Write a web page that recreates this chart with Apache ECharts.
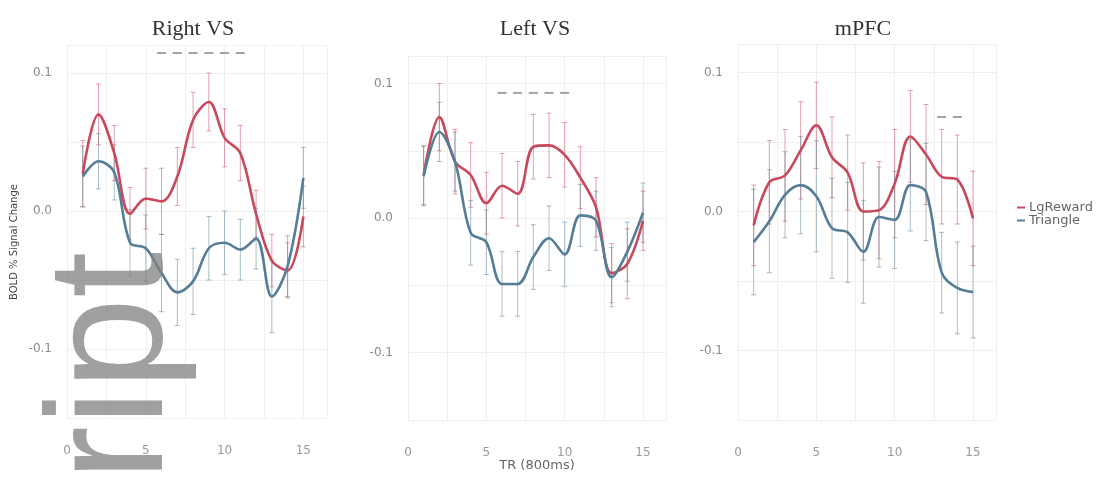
<!DOCTYPE html>
<html>
<head>
<meta charset="utf-8">
<script src="https://cdn.jsdelivr.net/npm/echarts@6/dist/echarts.min.js"></script>
<style>
  html, body { margin: 0; padding: 0; background: #fff; }
  #chart { width: 1105px; height: 480px; }
</style>
</head>
<body>
<div id="chart"></div>
<script>
(function () {
  "use strict";

  // TR index (800 ms each)
  const trs = [1, 2, 3, 4, 5, 6, 7, 8, 9, 10, 11, 12, 13, 14, 15];
  const panelTitles = ["Right VS", "Left VS", "mPFC"];
  const seriesNames = ["LgReward", "Triangle"];

  // Right VS
  const rvsReward = [0.027, 0.070, 0.042, -0.002, 0.009, 0.007, 0.025, 0.066, 0.079, 0.053, 0.042, -0.002, -0.036, -0.043, -0.004];
  const rvsRewardSe = [0.024, 0.022, 0.020, 0.019, 0.022, 0.024, 0.021, 0.020, 0.021, 0.021, 0.020, 0.017, 0.019, 0.020, 0.022];
  const rvsTriangle = [0.025, 0.036, 0.028, -0.023, -0.027, -0.045, -0.059, -0.051, -0.027, -0.023, -0.028, -0.020, -0.062, -0.040, 0.024];
  const rvsTriangleSe = [0.022, 0.020, 0.020, 0.024, 0.024, 0.028, 0.024, 0.024, 0.023, 0.023, 0.022, 0.022, 0.026, 0.022, 0.022];

  // Left VS
  const lvsReward = [0.032, 0.075, 0.042, 0.032, 0.011, 0.024, 0.018, 0.053, 0.054, 0.047, 0.030, 0.008, -0.041, -0.034, -0.002];
  const lvsRewardSe = [0.022, 0.025, 0.024, 0.024, 0.023, 0.024, 0.024, 0.024, 0.024, 0.024, 0.023, 0.022, 0.022, 0.026, 0.022];
  const lvsTriangle = [0.031, 0.064, 0.042, -0.011, -0.018, -0.049, -0.049, -0.029, -0.015, -0.027, 0.002, -0.002, -0.044, -0.025, 0.004];
  const lvsTriangleSe = [0.022, 0.022, 0.022, 0.024, 0.024, 0.024, 0.024, 0.024, 0.024, 0.024, 0.023, 0.022, 0.022, 0.022, 0.022];

  // mPFC
  const mpfcReward = [-0.010, 0.021, 0.026, 0.044, 0.062, 0.039, 0.028, 0.000, 0.001, 0.020, 0.054, 0.041, 0.025, 0.023, -0.005];
  const mpfcRewardSe = [0.029, 0.030, 0.033, 0.035, 0.031, 0.029, 0.027, 0.035, 0.035, 0.039, 0.033, 0.036, 0.034, 0.032, 0.034];
  const mpfcTriangle = [-0.022, -0.007, 0.012, 0.019, 0.011, -0.012, -0.015, -0.029, -0.004, -0.006, 0.019, 0.014, -0.044, -0.055, -0.058];
  const mpfcTriangleSe = [0.038, 0.037, 0.031, 0.035, 0.040, 0.036, 0.036, 0.037, 0.036, 0.035, 0.033, 0.035, 0.029, 0.033, 0.033];

  // significance markers (TR, height)
  const rvsSigTr = [6, 7, 8, 9, 10, 11];
  const rvsSigY = [0.1145, 0.1145, 0.1145, 0.1145, 0.1145, 0.1145];
  const lvsSigTr = [6, 7, 8, 9, 10];
  const lvsSigY = [0.093, 0.093, 0.093, 0.093, 0.093];
  const mpfcSigTr = [13, 14];
  const mpfcSigY = [0.068, 0.068];

  const panels = [
    { reward: rvsReward, rewardSe: rvsRewardSe, tri: rvsTriangle, triSe: rvsTriangleSe, sigX: rvsSigTr, sigY: rvsSigY },
    { reward: lvsReward, rewardSe: lvsRewardSe, tri: lvsTriangle, triSe: lvsTriangleSe, sigX: lvsSigTr, sigY: lvsSigY },
    { reward: mpfcReward, rewardSe: mpfcRewardSe, tri: mpfcTriangle, triSe: mpfcTriangleSe, sigX: mpfcSigTr, sigY: mpfcSigY }
  ];

  // pixel layout of each facet
  const layout = [
    { left: 67, width: 260, top: 45.4, height: 372.6, titleX: 188 },
    { left: 408, width: 258.5, top: 56.6, height: 363.2, titleX: 530 },
    { left: 738, width: 258.5, top: 44.7, height: 375.3, titleX: 858 }
  ];

  const red = "#c9485b";
  const blue = "#557d96";
  const redBar = "rgba(201, 72, 91, 0.5)";
  const blueBar = "rgba(85, 125, 150, 0.5)";
  const gridColor = "#efefef";
  const sans = "DejaVu Sans, sans-serif";

  function errorSeries(idx, means, ses, color) {
    return {
      type: "custom",
      xAxisIndex: idx,
      yAxisIndex: idx,
      silent: true,
      z: 1,
      encode: { x: 0, y: [1, 2] },
      data: trs.map((t, i) => [t, means[i] - ses[i], means[i] + ses[i]]),
      renderItem(params, api) {
        const lo = api.coord([api.value(0), api.value(1)]);
        const hi = api.coord([api.value(0), api.value(2)]);
        const w = 2.5;
        const style = { stroke: color, lineWidth: 1 };
        return {
          type: "group",
          children: [
            { type: "line", shape: { x1: lo[0], y1: lo[1], x2: hi[0], y2: hi[1] }, style },
            { type: "line", shape: { x1: lo[0] - w, y1: lo[1], x2: lo[0] + w, y2: lo[1] }, style },
            { type: "line", shape: { x1: hi[0] - w, y1: hi[1], x2: hi[0] + w, y2: hi[1] }, style }
          ]
        };
      }
    };
  }

  function lineSeries(idx, name, values, color) {
    return {
      name,
      type: "line",
      xAxisIndex: idx,
      yAxisIndex: idx,
      smooth: 0.35,
      symbol: "none",
      silent: true,
      z: 3,
      lineStyle: { color, width: 2.6 },
      itemStyle: { color },
      data: trs.map((t, i) => [t, values[i]])
    };
  }

  const grid = [];
  const xAxis = [];
  const yAxis = [];
  const series = [];
  const title = [];

  panels.forEach((p, idx) => {
    const l = layout[idx];
    grid.push({ left: l.left, top: l.top, width: l.width, height: l.height });
    title.push({
      text: panelTitles[idx],
      left: l.titleX,
      top: 13,
      textAlign: "center",
      textStyle: { fontFamily: "Liberation Serif, serif", fontWeight: "normal", fontSize: 22, color: "#333" }
    });
    xAxis.push({
      type: "value",
      gridIndex: idx,
      min: 0,
      max: 16.5,
      interval: 2.5,
      axisLine: { show: false },
      axisTick: { show: false },
      splitLine: { show: true, lineStyle: { color: gridColor, width: 1 } },
      axisLabel: {
        margin: 27,
        color: "#999",
        fontSize: 12,
        fontFamily: sans,
        formatter: (v) => (Math.abs(v % 5) < 1e-9 ? String(v) : "")
      }
    });
    yAxis.push({
      type: "value",
      gridIndex: idx,
      min: -0.15,
      max: 0.12,
      interval: 0.05,
      axisLine: { show: false },
      axisTick: { show: false },
      splitLine: { show: true, lineStyle: { color: gridColor, width: 1 } },
      axisLabel: {
        margin: 15,
        color: "#8a8a8a",
        fontSize: 12,
        fontFamily: sans,
        formatter: (v) => {
          const c = Math.round(v * 100);
          if (c % 10 !== 0) return "";
          return c === 0 ? "0.0" : (c / 100).toFixed(1);
        }
      }
    });

    series.push(errorSeries(idx, p.reward, p.rewardSe, redBar));
    series.push(errorSeries(idx, p.tri, p.triSe, blueBar));
    series.push(lineSeries(idx, seriesNames[0], p.reward, red));
    series.push(lineSeries(idx, seriesNames[1], p.tri, blue));
    series.push({
      type: "scatter",
      xAxisIndex: idx,
      yAxisIndex: idx,
      silent: true,
      symbol: "rect",
      symbolSize: [9, 2],
      itemStyle: { color: "#8c8c8c" },
      data: p.sigX.map((t, i) => [t, p.sigY[i]])
    });
  });

  const chart = echarts.init(document.getElementById("chart"), null, { renderer: "canvas" });
  chart.setOption({
    animation: false,
    backgroundColor: "#fff",
    title,
    grid,
    xAxis,
    yAxis,
    series,
    legend: {
      data: seriesNames,
      orient: "vertical",
      left: 1012,
      top: 196,
      itemGap: 0,
      itemWidth: 8,
      itemHeight: 2,
      icon: "rect",
      textStyle: { fontFamily: sans, fontSize: 13, color: "#666", padding: [0, 0, 0, -1] }
    },
    graphic: [
      {
        // leftover of the repository watermark
        type: "text",
        x: 116,
        y: 481,
        rotation: Math.PI / 2,
        z: 10,
        silent: true,
        style: {
          text: "ript",
          font: '165px "Liberation Sans"',
          fill: "rgba(128, 128, 128, 0.75)",
          textAlign: "left",
          textVerticalAlign: "middle"
        }
      },
      {
        type: "text",
        x: 14,
        y: 242,
        rotation: Math.PI / 2,
        silent: true,
        style: {
          text: "BOLD % Signal Change",
          font: '10px "DejaVu Sans"',
          fill: "#444",
          textAlign: "center",
          textVerticalAlign: "middle"
        }
      },
      {
        type: "text",
        x: 537,
        y: 466,
        silent: true,
        style: {
          text: "TR (800ms)",
          font: '13px "DejaVu Sans"',
          fill: "#666",
          textAlign: "center",
          textVerticalAlign: "middle"
        }
      }
    ]
  });

  window.addEventListener("resize", () => chart.resize());
})();
</script>
</body>
</html>
